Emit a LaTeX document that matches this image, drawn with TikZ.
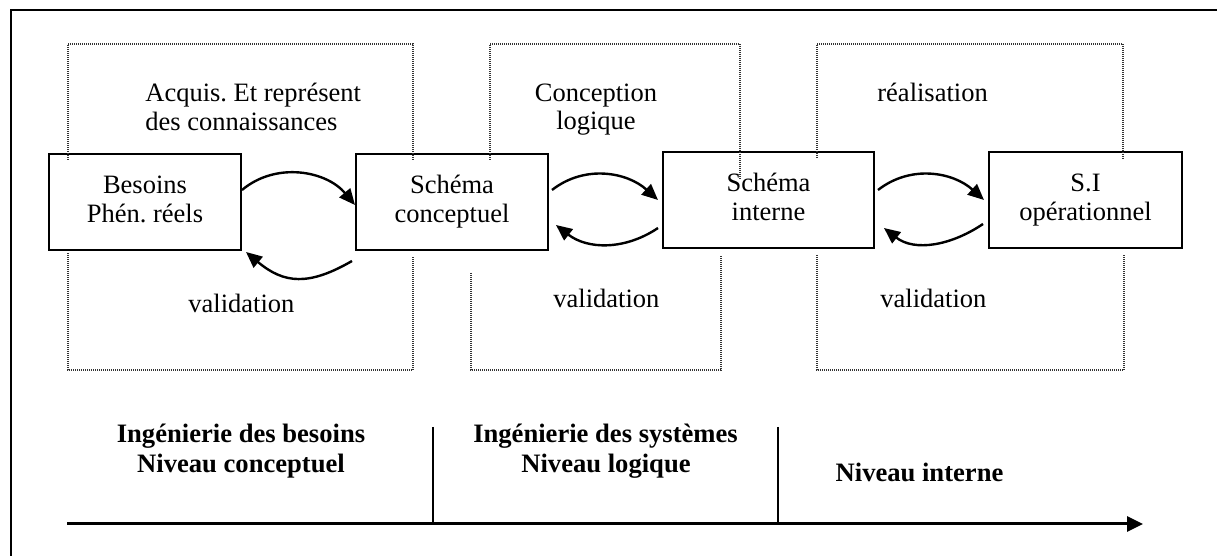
\documentclass[tikz,border=0pt]{standalone}
\usepackage{fontspec}
\setmainfont{Liberation Serif}
\usetikzlibrary{arrows.meta}
\frenchspacing
\begin{document}
\begin{tikzpicture}[x=0.5pt,y=0.5pt,
  every node/.style={font=\fontsize{13.25}{14.5}\selectfont, inner sep=0pt},
  stage/.style={draw, line width=1pt, fill=white, minimum height=48pt, align=center},
  bracket/.style={line width=0.6pt, dash pattern=on 0.5pt off 0.5pt, black!80},
  flow/.style={line width=1.2pt, -{Triangle[length=8pt,width=7pt]}},
  lbl/.style={anchor=base west},
  lvl/.style={anchor=base, font=\fontsize{13.3}{14.5}\selectfont\bfseries},
  axis/.style={line width=1.5pt, -{Triangle[length=8pt,width=7.5pt]}},
  tick/.style={line width=1pt},
]
\useasboundingbox (0,0) rectangle (1217,556);

% page frame (left and top edges)
\coordinate (fA) at (10.5,0);
\coordinate (fB) at (10.5,545.5);
\coordinate (fC) at (1217,545.5);
\draw[line width=1pt] (fA) -- (fB) -- (fC);

% the four stages
\node[stage, minimum width=96pt]    (b1) at (145,354)    {\strut Besoins\\Phén. réels\strut};
\node[stage, minimum width=96pt]    (b2) at (452,354)    {\strut Schéma\\conceptuel\strut};
\node[stage, minimum width=105.5pt] (b3) at (768.5,356)  {\strut Schéma\\interne\strut};
\node[stage, minimum width=96.5pt]  (b4) at (1085.5,356) {\strut S.I\\opérationnel\strut};

% dotted activity frames, upper and lower halves
\draw[bracket] (68,396) -- (68,512) -- (413,512) -- (413,396);
\draw[bracket] (68,303) -- (68,186) -- (413,186) -- (413,299);
\draw[bracket] (490,396) -- (490,512) -- (740,512) -- (740,376);
\draw[bracket] (471,283) -- (471,186) -- (721,186) -- (721,301);
\draw[bracket] (817,398) -- (817,512) -- (1123,512) -- (1123,396);
\draw[bracket] (817,301) -- (817,186) -- (1124,186) -- (1124,301);

% forward and feedback arrows between stages
\draw[flow] ([yshift=6pt]b1.east) to[out=40,in=130] ([yshift=-1.5pt]b2.west);
\draw[flow] ([xshift=-1.5pt,yshift=-5pt]b2.south west) to[out=210,in=-40,looseness=1.2] ([xshift=2pt,yshift=-0.5pt]b1.south east);
\draw[flow] ([xshift=1.5pt,yshift=6pt]b2.east) to[out=38,in=138] ([xshift=-2pt]b3.west);
\draw[flow] ([xshift=-2pt,yshift=-14pt]b3.west) to[out=214,in=-38] ([xshift=3.5pt,yshift=-11.5pt]b2.east);
\draw[flow] ([xshift=1.5pt,yshift=5pt]b3.east) to[out=38,in=138] ([xshift=-2pt]b4.west);
\draw[flow] ([xshift=-2.5pt,yshift=-12pt]b4.west) to[out=214,in=-38] ([xshift=4.5pt,yshift=-14pt]b3.east);

% activity labels
\node[lbl] (t1a) at (145,454) {Acquis. Et représent};
\node[lbl] (t1b) at (145,425) {des connaissances};
\node[anchor=base] (t2a) at (596,454) {Conception};
\node[anchor=base] (t2b) at (596,426) {logique};
\node[lbl] (t3) at (877,454) {réalisation};
\node[lbl] (v1) at (188,243) {validation};
\node[lbl] (v2) at (553,248) {validation};
\node[lbl] (v3) at (880,248) {validation};

% level labels
\node[lvl] (n1a) at (241,113)   {Ingénierie des besoins};
\node[lvl] (n1b) at (241,83)    {Niveau conceptuel};
\node[lvl] (n2a) at (605.5,113) {Ingénierie des systèmes};
\node[lvl] (n2b) at (606,83)    {Niveau logique};
\node[lvl] (n3)  at (919.5,74)  {Niveau interne};

% time axis with separators
\coordinate (axS) at (67,32);
\coordinate (axE) at (1143,32);
\coordinate (s1t) at (433,129);
\coordinate (s1b) at (433,32);
\coordinate (s2t) at (778,129);
\coordinate (s2b) at (778,32);
\draw[axis] (axS) -- (axE);
\draw[tick] (s1t) -- (s1b);
\draw[tick] (s2t) -- (s2b);
\end{tikzpicture}
\end{document}
